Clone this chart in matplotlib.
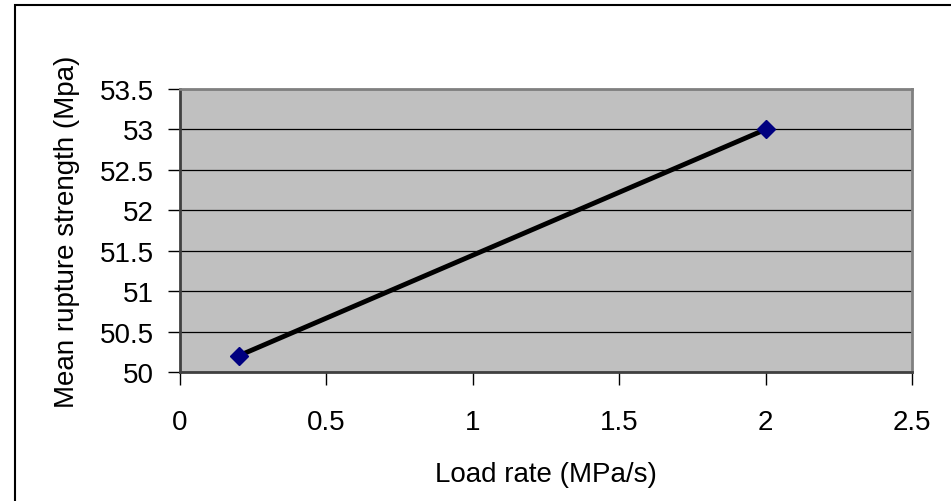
import numpy as np
import matplotlib.pyplot as plt
from matplotlib.patches import Rectangle

# load rate vs mean rupture strength
load_rate = [0.2, 2.0]
strength = [50.2, 53.0]
xticks = [0, 0.5, 1, 1.5, 2, 2.5]
yticks = [50, 50.5, 51, 51.5, 52, 52.5, 53, 53.5]

plt.rcParams['font.family'] = ['Liberation Sans', 'DejaVu Sans']
plt.rcParams['font.size'] = 20

W, H = 951, 502
fig = plt.figure(figsize=(W/100, H/100), dpi=100)
ax = fig.add_axes([180/W, 1-373/H, (912-180)/W, (373-90)/H])
ax.set_facecolor('#c0c0c0')

ax.plot(load_rate, strength, color='black', lw=3.5, marker='D', ms=9.5,
        mfc='#000080', mec='#000080', zorder=3)

ax.set_xlim(0, 2.5)
ax.set_ylim(50, 53.5)
ax.set_xticks(xticks)
ax.set_xticklabels(['0', '0.5', '1', '1.5', '2', '2.5'])
ax.set_yticks(yticks)
ax.set_yticklabels(['50', '50.5', '51', '51.5', '52', '52.5', '53', '53.5'])
ax.grid(axis='y', color='black', lw=0.9)
ax.set_axisbelow(True)
ax.tick_params(direction='out', length=9, width=1)
ax.tick_params(axis='y', pad=10)
ax.tick_params(axis='x', pad=18)

for s in ['top', 'right']:
    ax.spines[s].set_color('#808080')
    ax.spines[s].set_linewidth(2)
for s in ['left', 'bottom']:
    ax.spines[s].set_color('#404040')
    ax.spines[s].set_linewidth(2)

ax.set_xlabel('Load rate (MPa/s)', labelpad=18)
ax.set_ylabel('Mean rupture strength (Mpa)', labelpad=14)

# chart frame
fig.patches.append(Rectangle((15/W, -0.1), 1.1, 1-6/H+0.1, transform=fig.transFigure,
                             fill=False, ec='black', lw=1.5))

plt.savefig('out.png', dpi=100)
